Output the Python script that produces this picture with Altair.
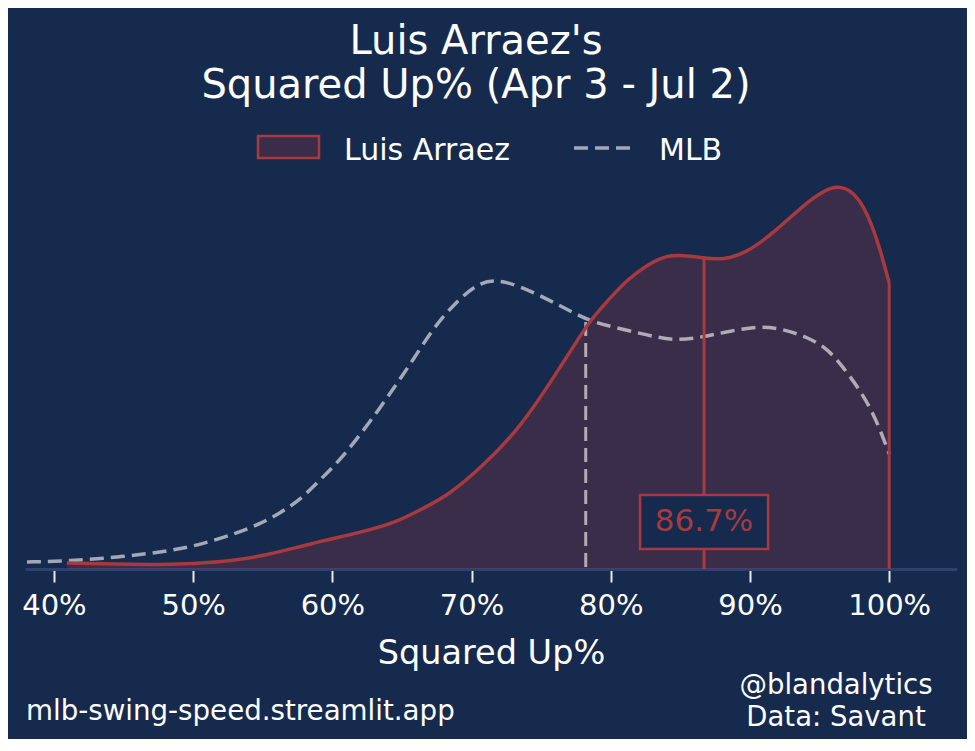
import altair as alt
import pandas as pd

# ---- data (density in arbitrary units) ----
arraez_x = [40.93, 44.74, 48.33, 51.93, 54.80, 58.61, 62.20, 64.64, 66.29, 68.38,
            70.89, 73.48, 76.06, 77.79, 78.72, 80.16, 81.16, 82.60, 84.25, 86.62,
            88.06, 89.78, 91.94, 94.31, 96.32, 97.90, 99.12, 100.0]
arraez_y = [6, 5, 4, 7, 12, 26, 37, 47, 59, 74,
            104, 141, 195, 233, 252, 274, 289, 304, 316, 311,
            309, 316, 339, 370, 387, 373, 332, 286]

mlb_x = [38.06, 41.15, 44.74, 48.33, 50.70, 53.15, 54.80, 56.24, 57.67, 59.11,
         60.55, 61.98, 63.42, 64.71, 65.79, 67.30, 68.88, 70.39, 71.68, 73.48,
         75.56, 77.36, 78.51, 80.16, 82.60, 84.61, 86.62, 88.56, 90.72, 92.37,
         94.09, 95.53, 96.68, 97.90, 98.84, 99.55, 100.0]
mlb_y = [7, 8, 12, 18, 25, 36, 45, 56, 69, 89,
         109, 134, 161, 187, 209, 242, 267, 285, 290, 283,
         269, 256, 248, 242, 234, 228, 232, 238, 243, 240,
         232, 221, 202, 179, 156, 132, 115]

arraez_mean = 86.7
arraez_mean_height = 310
mlb_mean = 78.2
mlb_mean_height = 247
arraez_end = 100.0
arraez_end_height = 286
label_height = 47

tick_values = [40, 50, 60, 70, 80, 90, 100]

title_lines = ["Luis Arraez's", "Squared Up% (Apr 3 - Jul 2)"]
player_name = "Luis Arraez"
league_name = "MLB"
x_title = "Squared Up%"
footer_left = "mlb-swing-speed.streamlit.app"
footer_right = ["@blandalytics", "Data: Savant"]

# ---- styles ----
BG = "#162a4e"
RED = "#a8393e"
FONT = "DejaVu Sans"
INTERP = "basis"

arraez_df = pd.DataFrame({"x": arraez_x, "y": arraez_y})
mlb_df = pd.DataFrame({"x": mlb_x, "y": mlb_y})

xs = alt.Scale(domain=[37.92, 104.87], nice=False, zero=False)
ys = alt.Scale(domain=[0, 399], nice=False, zero=False)

X = alt.X("x:Q", scale=xs, title=x_title,
          axis=alt.Axis(values=tick_values, labelExpr="datum.value + '%'",
                        grid=False, domainColor="#2b416f", domainWidth=3,
                        tickColor="#e8e8ee", tickWidth=2, tickSize=13,
                        labelColor="white", labelFont=FONT, labelFontSize=29,
                        labelPadding=9, titleColor="white", titleFont=FONT,
                        titleFontSize=33.5, titleFontWeight="normal", titlePadding=17))
Y = alt.Y("y:Q", scale=ys, axis=None)

area = alt.Chart(arraez_df).mark_area(color=RED, opacity=0.25, interpolate=INTERP).encode(x=X, y=Y)
mlb_line = alt.Chart(mlb_df).mark_line(color="white", opacity=0.6, strokeWidth=3.5,
                                       strokeDash=[14, 7], interpolate=INTERP).encode(x=X, y=Y)
red_line = alt.Chart(arraez_df).mark_line(color=RED, strokeWidth=3.5, interpolate=INTERP).encode(x=X, y=Y)

rules_df = pd.DataFrame({
    "x": [mlb_mean, arraez_mean, arraez_end],
    "y": [mlb_mean_height, arraez_mean_height, arraez_end_height],
    "kind": ["mlb", "arraez", "end"],
})
mlb_rule = alt.Chart(rules_df[rules_df.kind == "mlb"]).mark_rule(
    color="white", opacity=0.6, strokeWidth=3, strokeDash=[14, 7]
).encode(x=X, y=Y, y2=alt.datum(0))
red_rules = alt.Chart(rules_df[rules_df.kind != "mlb"]).mark_rule(
    color=RED, strokeWidth=3
).encode(x=X, y=Y, y2=alt.datum(0))

label_df = pd.DataFrame({"x": [arraez_mean], "y": [label_height], "t": [f"{arraez_mean}%"]})
box = alt.Chart(label_df).mark_point(
    shape="M-1,-0.42H1V0.42H-1Z", size=16384, filled=True, fill=BG,
    stroke=RED, strokeWidth=2.5, opacity=1
).encode(x=X, y=Y)
label = alt.Chart(label_df).mark_text(
    color=RED, font=FONT, fontSize=31, baseline="middle", align="center"
).encode(x=X, y=Y, text="t:N")

one = alt.Data(values=[{}])

def txt(text, px, py, size, align="center", baseline="alphabetic"):
    return alt.Chart(one).mark_text(
        text=text, color="white", font=FONT, fontSize=size, align=align, baseline=baseline
    ).encode(x=alt.value(px), y=alt.value(py))

texts = [
    txt(title_lines[0], 451, -116, 40),
    txt(title_lines[1], 451, -72, 40),
    txt(player_name, 319, -10, 30, align="left"),
    txt(league_name, 634, -10, 30, align="left"),
    txt(footer_left, 1, 550, 27.7, align="left"),
    txt(footer_right[0], 811, 524, 27.5),
    txt(footer_right[1], 811, 556, 27.5),
]

legend_patch_bg = alt.Chart(one).mark_rect(fill=BG).encode(
    x=alt.value(233), x2=alt.value(294), y=alt.value(-34), y2=alt.value(-12))
legend_patch = alt.Chart(one).mark_rect(
    fill=RED, fillOpacity=0.25, stroke=RED, strokeWidth=2.5
).encode(x=alt.value(233), x2=alt.value(294), y=alt.value(-34), y2=alt.value(-12))
legend_dash = alt.Chart(one).mark_rule(
    color="white", opacity=0.6, strokeWidth=3.5, strokeDash=[14, 7]
).encode(x=alt.value(549), x2=alt.value(609), y=alt.value(-22))

chart = alt.layer(
    area, mlb_line, mlb_rule, red_line, red_rules, box, label,
    legend_patch_bg, legend_patch, legend_dash, *texts
).properties(
    width=932, height=399, background=BG,
    autosize=alt.AutoSizeParams(type="none"),
    padding={"left": 17, "top": 162, "right": 10, "bottom": 170},
).configure_view(stroke=None)

chart.save("out.html", embed_options={"renderer": "svg", "actions": False})
